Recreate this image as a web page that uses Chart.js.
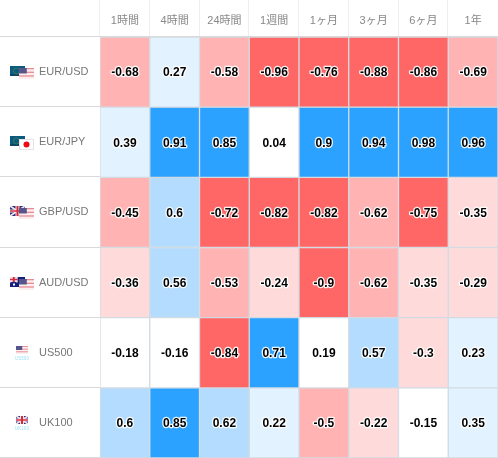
<!DOCTYPE html>
<html>
<head>
<meta charset="utf-8">
<script src="https://cdn.jsdelivr.net/npm/chart.js@4"></script>
<style>
  html, body { margin: 0; background: #fff; }
  canvas { display: block; }
</style>
</head>
<body>
<canvas id="heat" width="498" height="458"></canvas>
<script>
const periods = ["1時間", "4時間", "24時間", "1週間", "1ヶ月", "3ヶ月", "6ヶ月", "1年"]
const pairs = ["EUR/USD", "EUR/JPY", "GBP/USD", "AUD/USD", "US500", "UK100"]

const eurUsd = [-0.68, 0.27, -0.58, -0.96, -0.76, -0.88, -0.86, -0.69]
const eurJpy = [0.39, 0.91, 0.85, 0.04, 0.9, 0.94, 0.98, 0.96]
const gbpUsd = [-0.45, 0.6, -0.72, -0.82, -0.82, -0.62, -0.75, -0.35]
const audUsd = [-0.36, 0.56, -0.53, -0.24, -0.9, -0.62, -0.35, -0.29]
const us500 = [-0.18, -0.16, -0.84, 0.71, 0.19, 0.57, -0.3, 0.23]
const uk100 = [0.6, 0.85, 0.62, 0.22, -0.5, -0.22, -0.15, 0.35]
const rows = [eurUsd, eurJpy, gbpUsd, audUsd, us500, uk100]

const FONT = '"Liberation Sans", "Noto Sans CJK JP", sans-serif'

function cellColor(v) {
  if (v <= -0.7) return "#ff6666"
  if (v <= -0.4) return "#ffb3b3"
  if (v < -0.2) return "#ffdada"
  if (v < 0.2) return "#ffffff"
  if (v < 0.4) return "#e3f2ff"
  if (v < 0.7) return "#b3dcff"
  return "#2ba2ff"
}

// little flags next to the row labels
function euFlag(c, x, y) {
  c.fillStyle = "#0a5a82"
  c.fillRect(x, y, 15, 10)
  c.fillStyle = "#0e4468"
  c.fillRect(x, y + 8, 15, 2)
  c.strokeStyle = "#4f8a3c"
  c.lineWidth = 0.7
  c.beginPath()
  c.arc(x + 6.5, y + 5, 3, 0, Math.PI * 2)
  c.stroke()
}
function usFlag(c, x, y, w, h) {
  const band = h / 6
  c.fillStyle = "#fbeeee"
  c.fillRect(x, y, w, h)
  c.fillStyle = "#e88a92"
  for (let i = 0; i < 6; i += 2) c.fillRect(x, y + i * band, w, band * 0.7)
  c.fillStyle = "#56568c"
  c.fillRect(x, y, w * 0.52, h * 0.5)
}
function jpFlag(c, x, y) {
  c.fillStyle = "#ffffff"
  c.fillRect(x, y, 15, 11)
  c.strokeStyle = "#e4e4e4"
  c.lineWidth = 1
  c.strokeRect(x + 0.5, y + 0.5, 14, 10)
  c.fillStyle = "#ee0a14"
  c.beginPath()
  c.arc(x + 7.5, y + 5.5, 3, 0, Math.PI * 2)
  c.fill()
}
function ukFlag(c, x, y, w, h) {
  c.fillStyle = "#2a2f78"
  c.fillRect(x, y, w, h)
  c.strokeStyle = "#f0e6ea"
  c.lineWidth = 1.6
  c.beginPath()
  c.moveTo(x, y)
  c.lineTo(x + w, y + h)
  c.moveTo(x + w, y)
  c.lineTo(x, y + h)
  c.stroke()
  c.fillStyle = "#f0e6ea"
  c.fillRect(x + w / 2 - 2, y, 4, h)
  c.fillRect(x, y + h / 2 - 1.5, w, 3)
  c.fillStyle = "#d8283c"
  c.fillRect(x + w / 2 - 1, y, 2, h)
  c.fillRect(x, y + h / 2 - 0.7, w, 1.4)
}
function auFlag(c, x, y) {
  c.fillStyle = "#14207a"
  c.fillRect(x, y, 15, 10)
  ukFlag(c, x, y, 7.5, 5)
  c.fillStyle = "#ffffff"
  c.fillRect(x + 3, y + 6.5, 2, 2)
  c.fillRect(x + 11, y + 3, 1.5, 1.5)
  c.fillRect(x + 9, y + 6, 1.5, 1.5)
}
function indexTag(c, text, cx, y) {
  c.fillStyle = "#9fe0f8"
  c.font = "4.5px " + FONT
  c.textAlign = "center"
  c.textBaseline = "middle"
  c.fillText(text, cx, y)
}
const rowFlags = [
  (c, m) => { euFlag(c, 10, m - 7); usFlag(c, 19, m - 5, 15, 11) },
  (c, m) => { euFlag(c, 10, m - 7); jpFlag(c, 19, m - 4) },
  (c, m) => { ukFlag(c, 10, m - 7, 15, 10); usFlag(c, 19, m - 5, 15, 11) },
  (c, m) => { auFlag(c, 10, m - 7); usFlag(c, 19, m - 5, 15, 11) },
  (c, m) => { usFlag(c, 16, m - 8, 12, 8); indexTag(c, "US500", 22, m + 5) },
  (c, m) => { ukFlag(c, 16, m - 8, 12, 8); indexTag(c, "UK100", 22, m + 5) },
]

const sheetLines = {
  id: "sheetLines",
  beforeDatasetsDraw(chart) {
    const c = chart.ctx
    const { x, y, rows: rowScale } = chart.scales
    c.save()
    // header column separators
    c.fillStyle = "#eeeeee"
    periods.forEach((p, i) => {
      c.fillRect(Math.round(x.getPixelForValue(i) - (x.width / periods.length) / 2) - 1, 0, 1, y.top)
    })
    // row separators through the label column
    c.fillStyle = "#d9d9d9"
    for (let r = 0; r <= pairs.length; r++) {
      c.fillRect(0, Math.round(y.getPixelForValue(r)) - 1, chart.width, 1)
    }
    rowFlags.forEach((draw, r) => draw(c, Math.round(rowScale.getPixelForValue(r)) + 1))
    c.restore()
  },
}

const cellValues = {
  id: "cellValues",
  afterDatasetsDraw(chart) {
    const c = chart.ctx
    c.save()
    c.font = "bold 12px " + FONT
    c.textAlign = "center"
    c.textBaseline = "middle"
    c.lineJoin = "round"
    rows.forEach((vals, r) => {
      chart.getDatasetMeta(r).data.forEach((bar, i) => {
        const p = bar.getCenterPoint()
        c.strokeStyle = "rgba(255,255,255,0.9)"
        c.lineWidth = 2.5
        c.strokeText(String(vals[i]), p.x, p.y + 1)
        c.fillStyle = "#000000"
        c.fillText(String(vals[i]), p.x, p.y + 1)
      })
    })
    c.restore()
  },
}

new Chart(document.getElementById("heat"), {
  type: "bar",
  data: {
    labels: periods,
    datasets: rows.map((vals, r) => ({
      label: pairs[r],
      data: vals.map(() => [r, r + 1]),
      backgroundColor: vals.map(cellColor),
      borderColor: "#d3dbe2",
      borderWidth: 1,
      borderSkipped: false,
      barPercentage: 1,
      categoryPercentage: 1,
    })),
  },
  options: {
    responsive: false,
    animation: false,
    layout: { padding: { left: 39, right: 0, top: 0, bottom: 0 } },
    plugins: { legend: { display: false }, tooltip: { enabled: false } },
    scales: {
      x: {
        position: "top",
        stacked: true,
        grid: { display: false },
        border: { display: false },
        ticks: { color: "#888888", font: { size: 11, family: FONT }, maxRotation: 0, padding: 1 },
        afterFit(scale) { scale.height = 37 },
      },
      y: {
        display: false,
        reverse: true,
        min: 0,
        max: pairs.length,
      },
      rows: {
        type: "category",
        position: "left",
        labels: pairs,
        offset: true,
        grid: { display: false },
        border: { display: false },
        ticks: { color: "#777777", font: { size: 11, family: FONT }, crossAlign: "far", padding: 0 },
        afterFit(scale) {
          scale.width = 61
          scale.paddingTop = 0
          scale.paddingBottom = 0
        },
      },
    },
  },
  plugins: [sheetLines, cellValues],
})
</script>
</body>
</html>
